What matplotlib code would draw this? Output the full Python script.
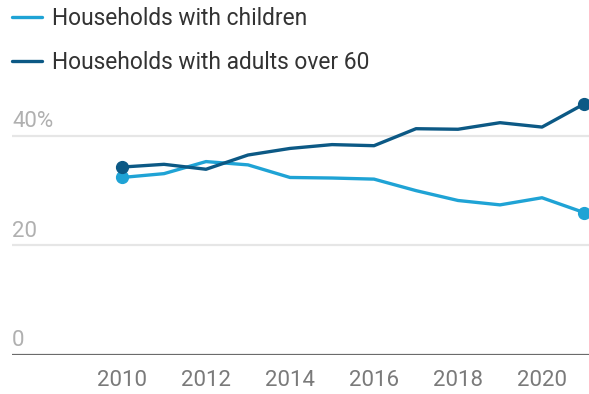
import matplotlib
matplotlib.use("Agg")
import matplotlib.pyplot as plt
import matplotlib.transforms as mtransforms

plt.rcParams['font.family'] = ['Roboto', 'DejaVu Sans']

years = [2010, 2011, 2012, 2013, 2014, 2015, 2016, 2017, 2018, 2019, 2020, 2021]
children = [32.4, 33.1, 35.3, 34.7, 32.4, 32.3, 32.1, 30.0, 28.2, 27.4, 28.7, 26.0]
adults60 = [34.3, 34.8, 33.9, 36.5, 37.7, 38.4, 38.2, 41.3, 41.2, 42.4, 41.6, 45.8]
series_labels = ["Households with children", "Households with adults over 60"]
yticks = [0, 20, 40]
ytick_labels = ["0", "20", "40%"]
xticks = [2010, 2012, 2014, 2016, 2018, 2020]

c_light = "#1fa3d5"
c_dark = "#0c5985"

W, H = 589, 394
fig = plt.figure(figsize=(W / 100, H / 100), dpi=100)
ax = fig.add_axes([12 / W, (H - 355) / H, 1 - 12 / W, (355 - 92) / H])

ax.set_xlim(2010 - 110 / 42, 2021 + 5 / 42)
ax.set_ylim(0, 48)

for v in yticks[1:]:
    ax.axhline(v, color="#e6e6e6", lw=1.6, zorder=1)
ax.axhline(0, color="#6b6b6b", lw=1.6, zorder=2)

l1, = ax.plot(years, children, color=c_light, lw=2.4, zorder=3, solid_capstyle='round')
l2, = ax.plot(years, adults60, color=c_dark, lw=2.4, zorder=4, solid_capstyle='round')
for ys, c in [(children, c_light), (adults60, c_dark)]:
    ax.plot([years[0], years[-1]], [ys[0], ys[-1]], 'o', color=c, ms=8.5, zorder=5, clip_on=False)

for s in ax.spines.values():
    s.set_visible(False)
ax.set_yticks([])
ax.set_xticks(xticks)
ax.set_xticklabels([str(x) for x in xticks], fontsize=16, color="#7a7a7a")
ax.tick_params(axis='x', length=0, pad=11)

trans = mtransforms.blended_transform_factory(ax.transAxes, ax.transData)
for v, lab in zip(yticks, ytick_labels):
    t = ax.text(0, v, lab, transform=trans, fontsize=16, color="#b0b0b0",
                ha='left', va='baseline')
    t.set_transform(trans + mtransforms.ScaledTranslation(0, 8.5 / 100, fig.dpi_scale_trans))

fig.legend([l1, l2], series_labels, loc='upper left', bbox_to_anchor=(12 / W, 1 - 7 / H),
           frameon=False, fontsize=16.4, handlelength=1.32, handletextpad=0.42,
           labelspacing=0.92, borderpad=0, borderaxespad=0, labelcolor="#333333")

fig.savefig("out.png", dpi=100)
